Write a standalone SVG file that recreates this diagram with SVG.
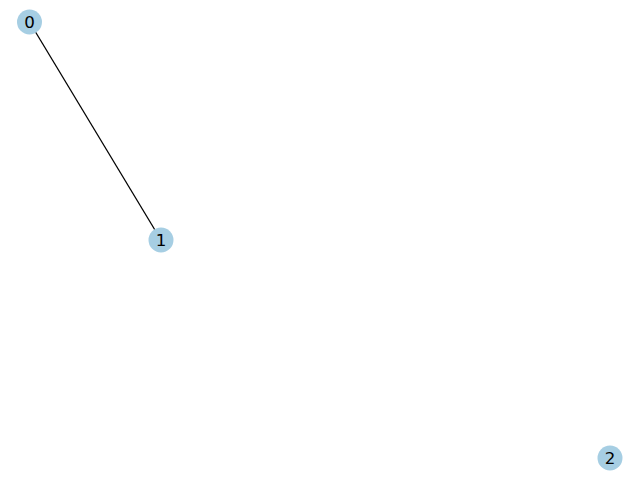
<svg xmlns="http://www.w3.org/2000/svg" width="640" height="480" viewBox="0 0 640 480">
<style>
.node circle{fill:#a6cee3;stroke:none}
.node text{font-family:"DejaVu Sans",sans-serif;font-size:16.7px;fill:#000;text-anchor:middle;dominant-baseline:central}
.edge{stroke:#000;stroke-width:1.3;fill:none}
</style>
<rect width="640" height="480" fill="#fff"/>
<g id="edges">
<line class="edge" x1="29.5" y1="22" x2="161" y2="240"/>
</g>
<g id="node0" class="node"><circle cx="29.5" cy="22" r="12.5"/><text x="29.5" y="22">0</text></g>
<g id="node1" class="node"><circle cx="161" cy="240" r="12.5"/><text x="161" y="240">1</text></g>
<g id="node2" class="node"><circle cx="610" cy="458" r="12.5"/><text x="610" y="458">2</text></g>
</svg>
